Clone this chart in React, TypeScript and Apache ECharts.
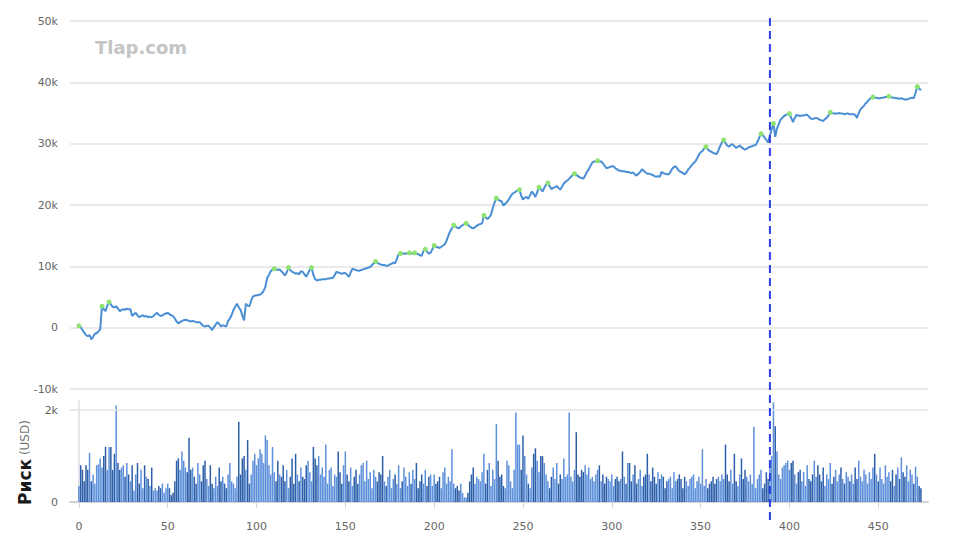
import React, { useEffect, useRef } from "react";
import * as echarts from "echarts";

// Equity curve (thousands USD) per trade index 0..474
const equityK: number[] = [
  0.3, 0.1, -0.4, -0.8, -1.2, -1.4, -1.2, -1.9, -1.5, -1.0,
  -0.9, -0.6, -0.3, 3.5, 3.0, 2.7, 3.6, 4.2, 3.8, 3.4,
  3.3, 3.5, 3.1, 2.7, 2.9, 3.0, 2.9, 3.1, 3.0, 3.0,
  1.9, 2.2, 2.4, 2.0, 1.7, 1.9, 2.0, 1.8, 1.9, 1.7,
  1.8, 1.7, 1.9, 2.2, 2.4, 2.1, 1.9, 2.0, 2.2, 2.3,
  2.4, 2.2, 2.0, 1.9, 1.5, 1.0, 0.7, 0.9, 1.1, 1.2,
  1.3, 1.2, 1.1, 1.0, 1.1, 1.0, 0.9, 0.9, 0.9, 0.6,
  0.3, 0.2, 0.3, 0.3, 0.0, -0.4, 0.1, 0.5, 0.9, 0.6,
  0.2, 0.4, 0.3, 0.2, 1.1, 1.5, 2.1, 2.9, 3.4, 3.9,
  3.3, 2.9, 2.0, 1.2, 3.9, 3.6, 3.5, 4.4, 5.1, 5.2,
  5.3, 5.3, 5.4, 5.6, 6.0, 6.7, 8.1, 8.6, 9.2, 9.5,
  9.6, 9.5, 9.4, 9.5, 9.2, 8.9, 8.5, 9.0, 9.8, 9.4,
  9.1, 9.0, 8.8, 8.9, 8.7, 9.2, 9.1, 8.7, 8.3, 8.9,
  9.4, 9.8, 8.6, 7.9, 7.7, 7.8, 7.8, 7.9, 7.9, 7.9,
  8.0, 8.0, 8.1, 8.1, 8.6, 9.1, 9.0, 8.9, 8.8, 8.9,
  8.9, 8.6, 8.3, 9.0, 9.6, 9.5, 9.4, 9.3, 9.3, 9.4,
  9.5, 9.6, 9.7, 9.8, 9.9, 10.2, 10.5, 10.8, 10.6, 10.4,
  10.3, 10.2, 10.2, 10.1, 10.1, 10.3, 10.4, 10.6, 10.5, 11.2,
  12.0, 12.1, 12.0, 12.1, 12.1, 12.1, 12.2, 12.1, 12.1, 12.2,
  12.1, 12.0, 11.8, 11.7, 12.5, 12.8, 12.4, 12.1, 12.2, 12.8,
  13.4, 13.2, 13.1, 13.0, 13.2, 13.4, 13.6, 14.2, 15.0, 15.7,
  16.2, 16.7, 16.5, 16.3, 16.2, 16.5, 16.7, 16.9, 17.0, 16.8,
  16.5, 16.3, 16.2, 16.4, 16.6, 16.8, 16.9, 17.0, 18.3, 18.0,
  17.7, 18.0, 18.4, 19.5, 20.4, 21.1, 20.9, 20.7, 20.6, 19.9,
  20.2, 20.5, 20.9, 21.4, 21.8, 22.0, 22.2, 22.4, 22.5, 21.5,
  20.9, 21.2, 21.3, 21.0, 21.6, 22.2, 21.8, 21.3, 22.1, 22.9,
  22.6, 22.2, 22.8, 23.3, 23.6, 23.1, 22.6, 22.8, 22.9, 23.1,
  22.8, 22.5, 23.0, 23.5, 23.8, 24.0, 24.3, 24.6, 24.9, 25.1,
  24.9, 24.7, 24.5, 24.4, 24.3, 24.8, 25.4, 25.8, 26.4, 26.9,
  27.1, 27.1, 27.2, 27.1, 27.1, 26.8, 26.4, 26.0, 26.1, 26.2,
  26.3, 26.3, 26.0, 25.8, 25.6, 25.6, 25.5, 25.5, 25.4, 25.4,
  25.3, 25.2, 25.3, 25.0, 24.8, 25.1, 25.4, 25.8, 25.6, 25.3,
  25.1, 25.1, 25.0, 24.9, 24.7, 24.6, 24.7, 24.6, 25.4, 25.2,
  25.1, 25.0, 25.0, 25.4, 25.9, 26.2, 26.3, 25.9, 25.5, 25.4,
  25.2, 25.0, 25.3, 25.8, 26.1, 26.5, 26.8, 27.1, 27.6, 28.2,
  28.6, 28.8, 29.2, 29.5, 29.1, 28.8, 28.7, 28.5, 28.4, 28.3,
  28.9, 29.6, 30.2, 30.6, 30.1, 29.7, 29.5, 29.8, 29.9, 29.6,
  29.3, 29.5, 29.7, 29.4, 29.2, 29.0, 29.2, 29.4, 29.5, 29.6,
  29.7, 29.8, 30.3, 31.0, 31.6, 31.4, 31.0, 30.6, 30.2, 31.3,
  32.4, 33.3, 31.1, 32.5, 33.2, 33.9, 34.2, 34.5, 34.7, 34.8,
  34.9, 34.2, 33.5, 34.2, 34.7, 34.6, 34.5, 34.6, 34.6, 34.7,
  34.7, 34.4, 34.1, 34.0, 34.1, 34.2, 34.1, 33.9, 33.8, 33.7,
  34.0, 34.2, 34.6, 35.1, 35.0, 34.9, 34.9, 34.9, 35.0, 34.9,
  34.9, 34.8, 34.9, 34.9, 34.8, 34.8, 34.8, 34.7, 34.2, 35.0,
  35.6, 35.9, 36.2, 36.6, 36.9, 37.2, 37.5, 37.6, 37.5, 37.5,
  37.4, 37.4, 37.5, 37.5, 37.6, 37.6, 37.7, 37.6, 37.5, 37.5,
  37.4, 37.4, 37.3, 37.4, 37.3, 37.2, 37.2, 37.3, 37.4, 37.5,
  37.4, 38.3, 39.3, 39.0, 38.7,
];

// Risk per trade (thousands USD)
const riskK: number[] = [
  0.35, 0.8, 0.7, 0.45, 0.8, 0.7, 1.07, 0.45, 0.6, 0.4, 0.8, 0.82, 0.95, 0.75, 1.0, 1.2, 0.7, 1.2, 1.2, 0.7, 1.05, 2.1, 0.85, 0.7, 0.75,
  0.8, 0.55, 0.85, 0.6, 0.45, 0.8, 0.25, 0.6, 0.85, 0.4, 0.7, 0.3, 0.8, 0.55, 0.5, 0.35, 0.75, 0.25, 0.3, 0.25, 0.35, 0.3, 0.4, 0.2, 0.3,
  0.4, 0.3, 0.15, 0.2, 0.45, 0.9, 0.95, 0.7, 1.1, 0.9, 0.75, 0.65, 1.4, 0.7, 0.75, 0.55, 0.4, 0.85, 0.6, 0.45, 0.8, 0.9, 0.5, 0.35, 0.8,
  0.4, 0.3, 0.55, 0.35, 0.75, 0.45, 0.55, 0.4, 0.3, 0.6, 0.85, 0.45, 0.4, 0.3, 0.55, 1.75, 0.6, 0.95, 1.0, 0.7, 1.35, 0.4, 0.6, 0.9, 1.05,
  0.8, 0.95, 1.15, 1.05, 0.85, 1.45, 1.35, 0.8, 0.6, 1.2, 0.65, 0.45, 0.9, 0.6, 0.55, 0.8, 0.45, 0.7, 0.3, 0.55, 0.95, 0.4, 1.05, 0.6, 0.45,
  0.75, 0.55, 0.5, 0.8, 0.9, 0.65, 0.45, 1.2, 0.95, 0.8, 1.0, 0.6, 0.75, 0.55, 1.25, 0.4, 0.7, 0.75, 0.35, 0.6, 0.55, 1.1, 0.65, 0.4, 0.8,
  1.1, 0.6, 0.45, 0.75, 0.35, 0.55, 0.7, 0.4, 0.6, 0.8, 0.85, 0.45, 0.9, 0.5, 0.65, 0.3, 0.7, 0.55, 0.45, 0.65, 0.6, 1.0, 0.45, 0.35, 0.55,
  0.7, 0.3, 0.5, 0.6, 0.4, 0.8, 0.3, 0.45, 0.75, 0.55, 0.35, 0.65, 0.4, 0.7, 0.5, 0.85, 0.3, 0.45, 0.6, 0.4, 0.7, 0.35, 0.55, 0.6, 0.35,
  0.6, 0.4, 0.45, 0.55, 0.3, 0.65, 0.75, 0.4, 0.55, 0.45, 1.15, 0.4, 0.3, 0.35, 0.25, 0.4, 0.2, 0.1, 0.1, 0.2, 0.45, 0.6, 0.75, 0.4, 0.55,
  0.5, 0.45, 0.65, 1.05, 0.4, 0.7, 0.85, 0.35, 0.7, 0.5, 1.7, 0.9, 0.55, 0.6, 0.35, 0.3, 0.9, 0.8, 0.45, 0.3, 0.7, 1.95, 1.25, 1.25, 0.7,
  1.45, 1.0, 0.6, 0.4, 0.3, 0.75, 1.05, 1.17, 0.9, 0.65, 1.0, 1.0, 0.85, 0.6, 0.45, 0.3, 0.55, 0.75, 0.5, 0.85, 0.4, 0.6, 0.5, 0.95, 0.55,
  0.6, 1.95, 0.55, 0.45, 0.7, 1.52, 0.6, 0.55, 0.7, 0.65, 0.8, 0.6, 0.75, 0.5, 0.55, 0.45, 0.6, 0.7, 0.8, 0.45, 0.6, 0.4, 0.55, 0.5, 0.45,
  0.6, 0.35, 0.5, 0.55, 0.45, 0.5, 1.1, 0.55, 0.4, 0.85, 0.85, 0.45, 0.6, 0.8, 0.4, 0.5, 0.7, 0.35, 0.55, 0.6, 1.05, 0.6, 0.45, 0.75, 0.55,
  0.4, 0.65, 0.5, 0.6, 0.55, 0.3, 0.45, 0.5, 0.55, 0.3, 0.65, 0.45, 0.5, 0.6, 0.5, 0.3, 0.55, 0.45, 0.35, 0.5, 0.55, 0.6, 0.3, 0.45, 0.55,
  0.4, 1.15, 0.35, 0.5, 0.3, 0.4, 0.45, 0.55, 0.4, 0.5, 0.55, 0.45, 0.6, 0.5, 1.25, 0.6, 0.45, 0.7, 0.4, 1.05, 0.45, 0.35, 0.6, 0.95, 0.5,
  0.7, 0.55, 0.45, 0.6, 0.4, 1.64, 0.3, 0.5, 0.6, 0.7, 0.3, 0.4, 0.65, 0.5, 0.8, 1.0, 2.17, 1.65, 1.1, 0.6, 0.5, 0.75, 0.8, 0.85, 0.9,
  0.7, 0.85, 0.9, 0.6, 0.4, 0.65, 0.7, 0.45, 0.65, 0.35, 0.8, 0.5, 0.45, 0.6, 0.9, 0.55, 0.8, 0.6, 0.45, 0.75, 0.35, 0.6, 0.5, 0.85, 0.4,
  0.55, 0.7, 0.45, 0.6, 0.75, 0.5, 0.4, 0.65, 0.55, 0.45, 0.6, 0.4, 0.75, 0.5, 0.9, 0.55, 0.45, 0.7, 0.6, 0.4, 0.65, 0.5, 0.75, 1.05, 0.6,
  0.45, 0.75, 0.5, 0.4, 0.8, 0.55, 0.65, 0.45, 0.7, 0.35, 0.6, 0.75, 0.5, 0.97, 0.65, 0.55, 0.8, 0.45, 0.7, 0.6, 0.4, 0.77, 0.55, 0.35, 0.3,
];

const xTickValues = [0, 50, 100, 150, 200, 250, 300, 350, 400, 450];
const markerTrade = 389;
const riskGridLineK = 2;

const fmtK = (v: number) => (v === 0 ? "0" : `${v}k`);

export default function App() {
  const ref = useRef<HTMLDivElement>(null);

  useEffect(() => {
    if (!ref.current) return;
    const chart = echarts.init(ref.current, undefined, { renderer: "svg" });

    // green markers: new equity highs that are local peaks
    let runMax = -Infinity;
    const lineData = equityK.map((v, i) => {
      const isHigh = v >= runMax;
      if (isHigh) runMax = v;
      const next = i + 1 < equityK.length ? equityK[i + 1] : -Infinity;
      if (isHigh && next < v) {
        return {
          value: [i, v],
          symbol: "circle",
          symbolSize: 5,
          itemStyle: { color: "#8fe46f", borderWidth: 0 },
        };
      }
      return { value: [i, v], symbol: "none" };
    });

    const barData = riskK.map((v, i) => {
      const prev = i > 0 ? equityK[i - 1] : equityK[0];
      const down = equityK[i] < prev;
      return {
        value: [i, v],
        itemStyle: { color: down ? "#2d5fa9" : "#5d90da" },
      };
    });

    const labelStyle = {
      color: "#666",
      fontSize: 11,
      fontFamily: "DejaVu Sans",
    };

    chart.setOption({
      animation: false,
      textStyle: { fontFamily: "DejaVu Sans" },
      grid: [
        { left: 70, top: 21, width: 858, height: 368 },
        { left: 70, top: 401, width: 858, height: 101 },
      ],
      xAxis: [
        {
          type: "value",
          gridIndex: 0,
          min: -5,
          max: 478,
          show: false,
        },
        {
          type: "value",
          gridIndex: 1,
          min: -5,
          max: 478,
          offset: 11,
          splitLine: { show: false },
          axisLine: { show: true, lineStyle: { color: "#d4d4d4", width: 2 } },
          axisTick: {
            show: true,
            customValues: xTickValues,
            length: 6,
            lineStyle: { color: "#d4d4d4" },
          },
          axisLabel: { ...labelStyle, customValues: xTickValues, margin: 8 },
        },
      ],
      yAxis: [
        {
          type: "value",
          gridIndex: 0,
          min: -10,
          max: 50,
          interval: 10,
          axisLine: { show: false },
          axisTick: { show: false },
          splitLine: { lineStyle: { color: "#e3e3e3", width: 1.5 } },
          axisLabel: { ...labelStyle, margin: 12, formatter: fmtK },
        },
        {
          type: "value",
          gridIndex: 1,
          min: 0,
          max: 2.2,
          interval: 2,
          axisLine: { show: true, lineStyle: { color: "#dcdfe6", width: 1.5 } },
          axisTick: { show: false },
          splitLine: { show: false },
          axisLabel: {
            ...labelStyle,
            margin: 12,
            formatter: (v: number) => (v === 0 || v === 2 ? fmtK(v) : ""),
          },
          name: "{a|Риск} {b|(USD)}",
          nameLocation: "middle",
          nameRotate: 90,
          nameGap: 25,
          nameTextStyle: {
            padding: [0, 22, 0, 0],
            rich: {
              a: { fontSize: 17, fontWeight: "bold", color: "#1a1a1a", fontFamily: "DejaVu Sans" },
              b: { fontSize: 12, color: "#777", fontFamily: "DejaVu Sans" },
            },
          },
        },
      ],
      series: [
        {
          type: "line",
          xAxisIndex: 0,
          yAxisIndex: 0,
          data: lineData,
          showSymbol: true,
          showAllSymbol: true,
          lineStyle: { color: "#4a8fd4", width: 2 },
          itemStyle: { color: "#4a8fd4" },
          z: 3,
        },
        {
          type: "bar",
          xAxisIndex: 1,
          yAxisIndex: 1,
          data: barData,
          barWidth: 1.5,
          markLine: {
            silent: true,
            symbol: "none",
            label: { show: false },
            lineStyle: { color: "#e3e3e3", type: "solid", width: 1.5 },
            data: [{ yAxis: riskGridLineK }],
          },
        },
      ],
    });

    const px = chart.convertToPixel({ xAxisIndex: 0 }, markerTrade) as number;
    chart.setOption({
      graphic: [
        {
          type: "text",
          left: 95,
          top: 38,
          style: {
            text: "Tlap.com",
            fill: "#c4c4c4",
            font: "bold 18px 'DejaVu Sans'",
          },
          z: 10,
        },
        {
          type: "line",
          shape: { x1: px, y1: 18, x2: px, y2: 521 },
          style: { stroke: "#2a3fe0", lineWidth: 2, lineDash: [8, 5] },
          z: 20,
        },
      ],
    });

    return () => chart.dispose();
  }, []);

  return (
    <div
      ref={ref}
      style={{ position: "fixed", left: 0, top: 0, width: 961, height: 553, background: "#fff" }}
    />
  );
}
